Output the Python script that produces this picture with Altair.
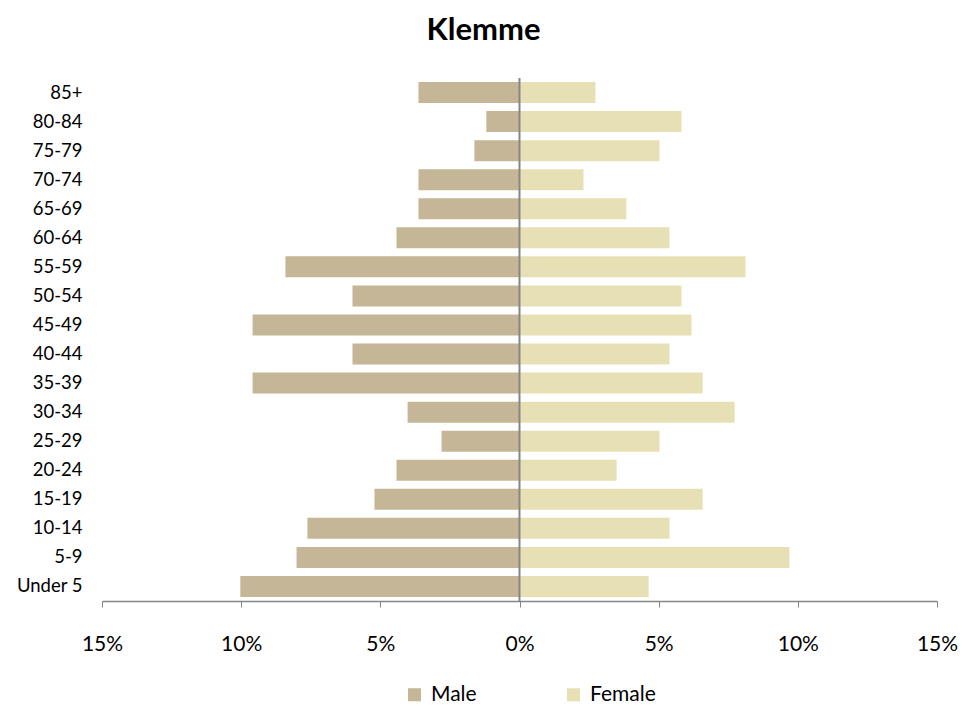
import altair as alt
import pandas as pd

ages = ["85+", "80-84", "75-79", "70-74", "65-69", "60-64", "55-59", "50-54",
        "45-49", "40-44", "35-39", "30-34", "25-29", "20-24", "15-19", "10-14",
        "5-9", "Under 5"]
male = [3.63, 1.19, 1.62, 3.63, 3.63, 4.42, 8.41, 6.0, 9.59, 6.0, 9.59, 4.02,
        2.80, 4.42, 5.21, 7.62, 8.01, 10.03]
female = [2.73, 5.82, 5.03, 2.30, 3.84, 5.39, 8.12, 5.82, 6.18, 5.39, 6.58, 7.73,
          5.03, 3.49, 6.58, 5.39, 9.70, 4.64]
x_ticks = [-0.15, -0.10, -0.05, 0.0, 0.05, 0.10, 0.15]

rows = []
for a, m, f in zip(ages, male, female):
    rows.append({"age": a, "sex": "Male", "value": -m / 100})
    rows.append({"age": a, "sex": "Female", "value": f / 100})
df = pd.DataFrame(rows)

FONT = "Lato"
W, H = 835, 523

bars = alt.Chart(df).mark_bar(size=21).encode(
    y=alt.Y("age:N", sort=ages, title=None,
            axis=alt.Axis(domain=False, ticks=False, labelPadding=20,
                          labelFontSize=18.5, labelColor="#000000", labelFont=FONT)),
    x=alt.X("value:Q", title=None,
            scale=alt.Scale(domain=[-0.15, 0.15], nice=False),
            axis=alt.Axis(values=x_ticks, labelExpr="format(abs(datum.value), '.0%')",
                          grid=False, domainColor="#868686", tickColor="#868686",
                          tickSize=6, labelPadding=26, labelFontSize=21, labelFlush=False,
                          labelBound=False, labelOverlap=False,
                          labelColor="#000000", labelFont=FONT, domainWidth=1.5)),
    color=alt.Color("sex:N", scale=alt.Scale(domain=["Male", "Female"],
                                             range=["#C4B696", "#E8E0B5"]),
                    legend=alt.Legend(title=None, orient="none", legendX=302, legendY=606,
                                      direction="horizontal", symbolType="square",
                                      symbolSize=170, symbolStrokeWidth=0,
                                      labelFontSize=21, labelFont=FONT, labelColor="#000000",
                                      columnPadding=86, labelOffset=6)),
)

zero = alt.Chart(pd.DataFrame({"x": [0.0]})).mark_rule(color="#868686", strokeWidth=2).encode(
    x="x:Q", y=alt.value(0), y2=alt.value(H)
)

chart = alt.layer(bars, zero).properties(
    width=W, height=H,
    title=alt.Title("Klemme", fontSize=31, fontWeight="bold", font=FONT, dx=-36, offset=30,
                    anchor="middle", color="#000000"),
    autosize=alt.AutoSizeParams(type="none"),
    padding={"left": 94, "top": 70, "right": 34, "bottom": 104},
).configure_view(stroke=None)

chart.save("out.html", embed_options={"renderer": "svg", "actions": False})
